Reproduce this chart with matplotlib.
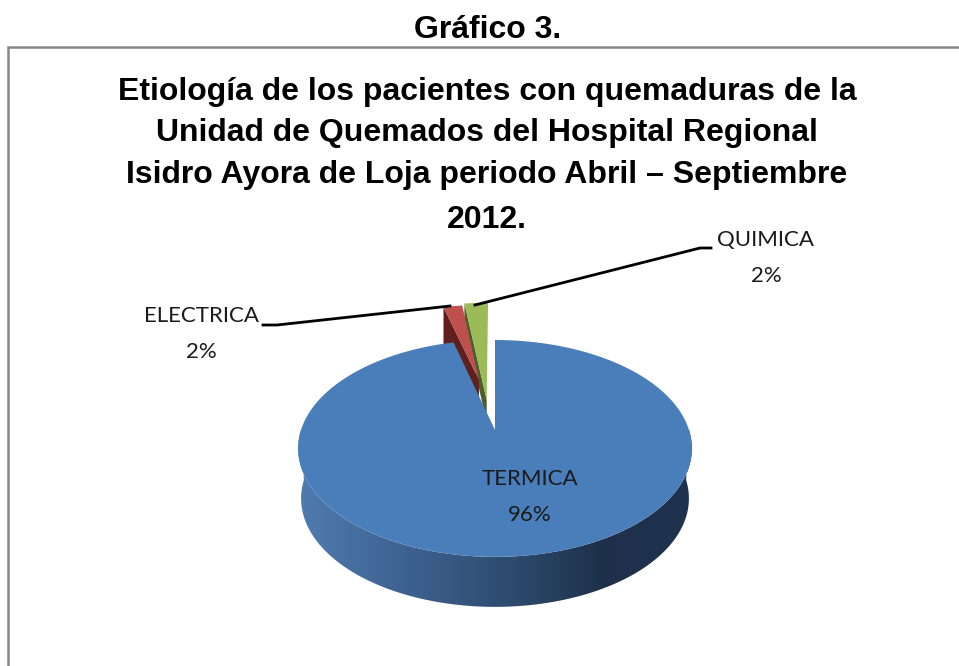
#!/usr/bin/env python3
import numpy as np
import matplotlib
matplotlib.use('Agg')
import matplotlib.pyplot as plt
from matplotlib.colors import LinearSegmentedColormap
from matplotlib.patches import Polygon

# chart data
labels = ['TERMICA', 'ELECTRICA', 'QUIMICA']
values = [96, 2, 2]
pct_text = ['96%', '2%', '2%']
title_lines = ['Etiología de los pacientes con quemaduras de la',
               'Unidad de Quemados del Hospital Regional',
               'Isidro Ayora de Loja periodo Abril – Septiembre',
               '2012.']
heading = 'Gráfico 3.'

# look of the 3d pie (all in pixels of the picture)
CX, CY = 495, 430
RX, RY, K = 194, 105.3, 0.17
DEPTH = 50
top_col = ['#4a7ebb', '#c0504d', '#9bbb59']
side_col = [None, '#5e1f1e', '#4c5f2a']
# offset of the exploded slices in disc units, radius and wall height
explode = [(0, 0), (-0.09, 0.517), (-0.045, 0.30)]
radius = [1.0, 0.97, 1.22]
wall = [DEPTH, 50, 22]


def project(u, v):
    # disc coordinates to pixels, far side looks smaller
    return CX + RX*u/(1 + K*v), CY - RY*v/(1 + K*v)


def slice_outline(start, stop, off, r):
    # angles clockwise from 12 o'clock, in degrees
    a = np.radians(np.linspace(start, stop, 200))
    u = np.r_[off[0], off[0] + r*np.sin(a)]
    v = np.r_[off[1], off[1] + r*np.cos(a)]
    return np.column_stack(project(u, v))


fig = plt.figure(figsize=(9.59, 6.66), dpi=100)
ax = fig.add_axes([0, 0, 1, 1])
ax.set_xlim(0, 959)
ax.set_ylim(666, 0)
ax.axis('off')

# frame of the chart, open at the bottom
ax.plot([8, 8, 959], [666, 47, 47], color='#868686', lw=1.8, solid_joinstyle='miter')

edges = np.r_[0, np.cumsum(values)]*360.0/np.sum(values)

# small slices first, the big one covers them
for i in [2, 1]:
    pts = slice_outline(edges[i], edges[i + 1], explode[i], radius[i])
    low = pts + [0, wall[i]]
    left = np.array([pts[0], pts[1], low[1], low[0]])
    ax.add_patch(Polygon(left, closed=True, fc=side_col[i], ec='none', zorder=2))
    ax.add_patch(Polygon(pts, closed=True, fc=top_col[i], ec='none', zorder=2.1))

# wall of the big slice with the shading left to right
a = np.radians(np.linspace(90, 270, 300))
x_rim, y_rim = project(np.sin(a), np.cos(a))
x_low = CX + (x_rim - CX)*0.985
wall_pts = np.r_[np.column_stack([x_rim, y_rim]),
                 np.column_stack([x_low, y_rim + DEPTH])[::-1]]
wall_poly = Polygon(wall_pts, closed=True, fc='none', ec='none', zorder=3)
ax.add_patch(wall_poly)
shade = LinearSegmentedColormap.from_list('wall', [(0, '#4f7cb0'), (0.28, '#3d618f'),
                                                    (0.55, '#2d4a6c'), (0.78, '#1e3049'),
                                                    (1, '#1f3350')])
img = ax.imshow(np.linspace(0, 1, 400).reshape(1, -1), cmap=shade, aspect='auto',
                extent=[x_rim.min(), x_rim.max(), y_rim.max() + DEPTH, y_rim.min()], zorder=3)
img.set_clip_path(wall_poly)
ax.set_xlim(0, 959)
ax.set_ylim(666, 0)

big = slice_outline(edges[0], edges[1], explode[0], radius[0])
ax.add_patch(Polygon(big, closed=True, fc=top_col[0], ec='none', zorder=4))

# leader lines
ax.plot([263, 277, 450], [325, 325, 306], color='black', lw=2, zorder=5)
ax.plot([475, 700, 711], [305, 248, 248], color='black', lw=2, zorder=5)

# slice labels
lab_font = dict(family='Lato', fontsize=16, color='#1a1a1a', ha='center', va='center', zorder=6)
ax.text(530, 479, labels[0], **lab_font)
ax.text(530, 515, pct_text[0], **lab_font)
ax.text(201, 316, labels[1], **lab_font)
ax.text(201, 352, pct_text[1], **lab_font)
ax.text(766, 240, labels[2], **lab_font)
ax.text(766, 276, pct_text[2], **lab_font)

# headings
ax.text(488, 30, heading, family='Liberation Sans', weight='bold', fontsize=23,
        ha='center', va='center', color='black')
for line, y in zip(title_lines, [92, 133, 175, 220]):
    ax.text(487, y, line, family='Liberation Sans', weight='bold', fontsize=23,
            ha='center', va='center', color='black')

fig.savefig('out.png', dpi=100)
